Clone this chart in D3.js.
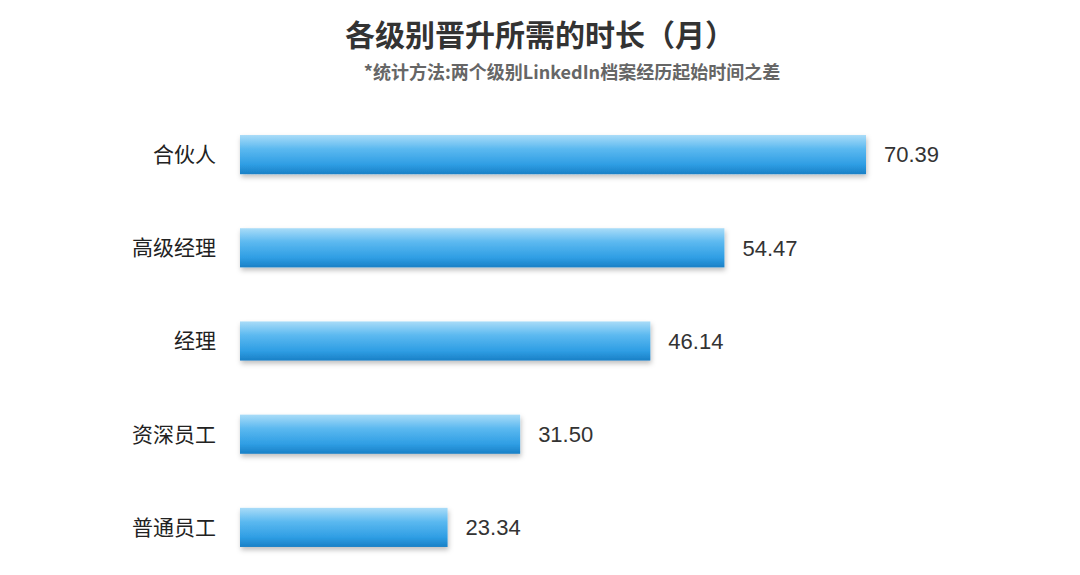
<!DOCTYPE html>
<html><head><meta charset="utf-8">
<script src="https://cdn.jsdelivr.net/npm/d3@7"></script>
<style>body{margin:0;background:#fff;font-family:"Noto Sans CJK SC","Liberation Sans",sans-serif}</style>
</head><body><svg id="c" width="1080" height="575"></svg>
<script>
const categories = ["合伙人", "高级经理", "经理", "资深员工", "普通员工"];
const values = [70.39, 54.47, 46.14, 31.50, 23.34];

const svg = d3.select("#c");
const x = d3.scaleLinear().domain([0, 70.39]).range([240, 866]);
const y = d3.scaleBand().domain(categories).range([108, 574]).paddingInner(0.58).paddingOuter(0.29);

const defs = svg.append("defs");
const g = defs.append("linearGradient").attr("id","bg").attr("x1",0).attr("y1",0).attr("x2",0).attr("y2",1);
[[0,"#a9dcf8"],[0.35,"#5cb9f0"],[0.75,"#2f9ee4"],[1,"#1a80c6"]].forEach(s=>g.append("stop").attr("offset",s[0]).attr("stop-color",s[1]));
const f = defs.append("filter").attr("id","sh").attr("x","-5%").attr("y","-20%").attr("width","110%").attr("height","160%");
f.append("feDropShadow").attr("dx",1).attr("dy",3).attr("stdDeviation",2.5).attr("flood-color","#000").attr("flood-opacity",0.25);

svg.append("text").attr("x",540).attr("y",46).attr("text-anchor","middle")
  .attr("font-size",30).attr("font-weight","bold").attr("fill","#333").text("各级别晋升所需的时长（月）");
svg.append("text").attr("x",572).attr("y",79).attr("text-anchor","middle")
  .attr("font-size",18).attr("font-weight","bold").attr("fill","#666").text("*统计方法:两个级别LinkedIn档案经历起始时间之差");

const row = svg.selectAll("g.r").data(categories).enter().append("g").attr("class","r");
row.append("rect").attr("x",x(0)).attr("y",d=>y(d)).attr("height",y.bandwidth())
  .attr("width",(d,i)=>x(values[i])-x(0)).attr("fill","url(#bg)").attr("filter","url(#sh)");
row.append("text").attr("x",216).attr("y",d=>y(d)+y.bandwidth()/2).attr("dy","0.35em")
  .attr("text-anchor","end").attr("font-size",21).attr("fill","#222").text(d=>d);
row.append("text").attr("x",(d,i)=>x(values[i])+18).attr("y",d=>y(d)+y.bandwidth()/2).attr("dy","0.35em")
  .attr("font-family","Liberation Sans, Arial").attr("font-size",22).attr("fill","#333")
  .text((d,i)=>values[i].toFixed(2));
</script></body></html>
